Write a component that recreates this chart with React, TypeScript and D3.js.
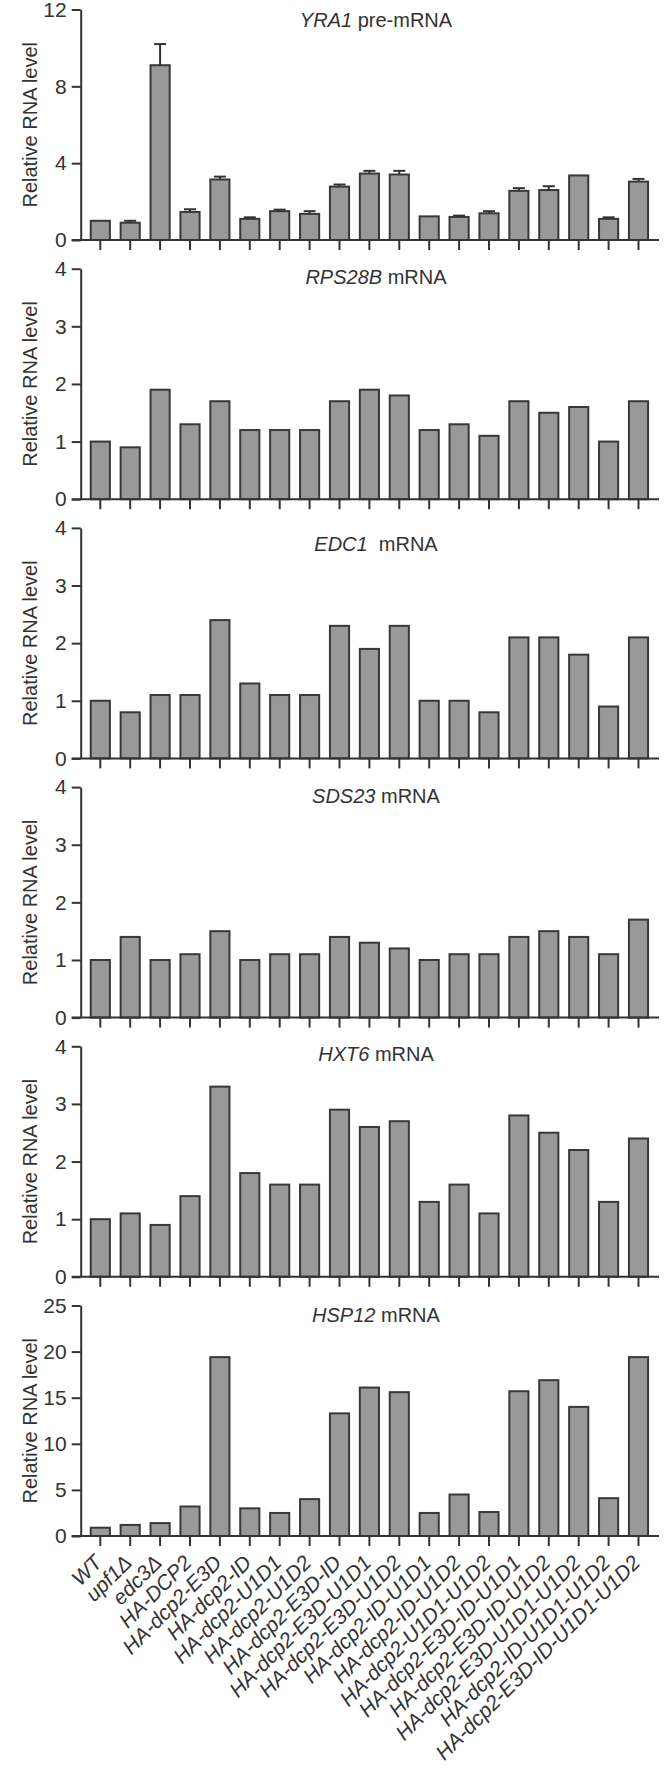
import * as d3 from "d3";
import { useEffect, useRef } from "react";

// strains on the x axis
const strains = [
  "WT", "upf1Δ", "edc3Δ", "HA-DCP2", "HA-dcp2-E3D", "HA-dcp2-ID",
  "HA-dcp2-U1D1", "HA-dcp2-U1D2", "HA-dcp2-E3D-ID", "HA-dcp2-E3D-U1D1",
  "HA-dcp2-E3D-U1D2", "HA-dcp2-ID-U1D1", "HA-dcp2-ID-U1D2", "HA-dcp2-U1D1-U1D2",
  "HA-dcp2-E3D-ID-U1D1", "HA-dcp2-E3D-ID-U1D2", "HA-dcp2-E3D-U1D1-U1D2",
  "HA-dcp2-ID-U1D1-U1D2", "HA-dcp2-E3D-ID-U1D1-U1D2",
];

const yra1 = [1.0, 0.9, 9.1, 1.46, 3.15, 1.1, 1.5, 1.36, 2.78, 3.46, 3.41, 1.23, 1.2, 1.39, 2.56, 2.6, 3.36, 1.1, 3.04];
const yra1Err = [0, 0.1, 1.1, 0.14, 0.15, 0.08, 0.08, 0.14, 0.11, 0.14, 0.19, 0, 0.07, 0.11, 0.14, 0.2, 0, 0.08, 0.14];
const rps28b = [1.0, 0.9, 1.9, 1.3, 1.7, 1.2, 1.2, 1.2, 1.7, 1.9, 1.8, 1.2, 1.3, 1.1, 1.7, 1.5, 1.6, 1.0, 1.7];
const edc1 = [1.0, 0.8, 1.1, 1.1, 2.4, 1.3, 1.1, 1.1, 2.3, 1.9, 2.3, 1.0, 1.0, 0.8, 2.1, 2.1, 1.8, 0.9, 2.1];
const sds23 = [1.0, 1.4, 1.0, 1.1, 1.5, 1.0, 1.1, 1.1, 1.4, 1.3, 1.2, 1.0, 1.1, 1.1, 1.4, 1.5, 1.4, 1.1, 1.7];
const hxt6 = [1.0, 1.1, 0.9, 1.4, 3.3, 1.8, 1.6, 1.6, 2.9, 2.6, 2.7, 1.3, 1.6, 1.1, 2.8, 2.5, 2.2, 1.3, 2.4];
const hsp12 = [0.9, 1.2, 1.4, 3.2, 19.4, 3.0, 2.5, 4.0, 13.3, 16.1, 15.6, 2.5, 4.5, 2.6, 15.7, 16.9, 14.0, 4.1, 19.4];

const ticks4 = [0, 1, 2, 3, 4];
const ticks12 = [0, 4, 8, 12];
const ticks25 = [0, 5, 10, 15, 20, 25];

const panels = [
  { gene: "YRA1", suffix: " pre-mRNA", values: yra1, err: yra1Err, max: 12, ticks: ticks12, titleDy: 17 },
  { gene: "RPS28B", suffix: " mRNA", values: rps28b, err: null, max: 4, ticks: ticks4, titleDy: 15 },
  { gene: "EDC1", suffix: "\u00a0\u00a0mRNA", values: edc1, err: null, max: 4, ticks: ticks4, titleDy: 23 },
  { gene: "SDS23", suffix: " mRNA", values: sds23, err: null, max: 4, ticks: ticks4, titleDy: 16 },
  { gene: "HXT6", suffix: " mRNA", values: hxt6, err: null, max: 4, ticks: ticks4, titleDy: 15 },
  { gene: "HSP12", suffix: " mRNA", values: hsp12, err: null, max: 25, ticks: ticks25, titleDy: 16 },
];

const W = 669;
const H = 1774;
const FONT = "'Liberation Sans', Arial, Helvetica, sans-serif";
const INK = "#333";

const App = () => {
  const chartRef = useRef<SVGSVGElement | null>(null);

  useEffect(() => {
    const svg = d3.select(chartRef.current);
    svg.selectAll("*").remove();

    const axisX = 80.7;
    const lineLeft = 71.7;
    const lineRight = 659;
    const panelTop = 9.5;
    const panelStep = 259.2;
    const panelH = 230.5;

    const x = d3.scaleBand<string>()
      .domain(strains)
      .range([85.35, 653.45])
      .paddingInner(0.36)
      .paddingOuter(0.18);
    const cx = (s: string) => (x(s) as number) + x.bandwidth() / 2;

    panels.forEach((p, k) => {
      const top = panelTop + panelStep * k;
      const zero = top + panelH;
      const y = d3.scaleLinear().domain([0, p.max]).range([zero, top]);
      const g = svg.append("g");

      // bars
      g.selectAll("rect.bar")
        .data(p.values)
        .enter()
        .append("rect")
        .attr("class", "bar")
        .attr("x", (_d, i) => x(strains[i]) as number)
        .attr("y", d => y(d))
        .attr("width", x.bandwidth())
        .attr("height", d => zero - y(d))
        .style("fill", "#999")
        .style("stroke", "#383838")
        .style("stroke-width", 2);

      // error bars (upper only)
      if (p.err) {
        const errs = p.err;
        const eg = g.selectAll("g.err")
          .data(p.values.map((v, i) => ({ v, e: errs[i], s: strains[i] })).filter(d => d.e > 0))
          .enter()
          .append("g")
          .attr("class", "err")
          .style("stroke", INK)
          .style("stroke-width", 2);
        eg.append("line")
          .attr("x1", d => cx(d.s))
          .attr("x2", d => cx(d.s))
          .attr("y1", d => y(d.v))
          .attr("y2", d => y(d.v + d.e));
        eg.append("line")
          .attr("x1", d => cx(d.s) - 6)
          .attr("x2", d => cx(d.s) + 6)
          .attr("y1", d => y(d.v + d.e))
          .attr("y2", d => y(d.v + d.e));
      }

      // y axis
      const yAxis = d3.axisLeft(y)
        .tickValues(p.ticks)
        .tickFormat(d3.format("d"))
        .tickSize(9)
        .tickSizeOuter(0)
        .tickPadding(5);
      const ya = g.append("g")
        .attr("transform", `translate(${axisX},0)`)
        .call(yAxis);
      ya.select(".domain").style("stroke", INK).style("stroke-width", 2);
      ya.selectAll(".tick line").style("stroke", INK).style("stroke-width", 2);
      ya.selectAll(".tick text")
        .style("font-family", FONT)
        .style("font-size", "21px")
        .style("fill", INK);

      // x axis
      const xAxis = d3.axisBottom(x).tickSize(10).tickSizeOuter(0).tickFormat(() => "");
      const xa = g.append("g")
        .attr("transform", `translate(0,${zero})`)
        .call(xAxis);
      xa.select(".domain").remove();
      xa.selectAll(".tick line").style("stroke", INK).style("stroke-width", 2);
      g.append("line")
        .attr("x1", lineLeft)
        .attr("x2", lineRight)
        .attr("y1", zero)
        .attr("y2", zero)
        .style("stroke", INK)
        .style("stroke-width", 2);

      // panel title
      const t = g.append("text")
        .attr("x", 376)
        .attr("y", top + p.titleDy)
        .attr("text-anchor", "middle")
        .style("font-family", FONT)
        .style("font-size", "20px")
        .style("fill", INK);
      t.append("tspan").style("font-style", "italic").text(p.gene);
      t.append("tspan").text(p.suffix);

      // y title
      g.append("text")
        .attr("transform", `translate(37,${(top + zero) / 2}) rotate(-90)`)
        .attr("text-anchor", "middle")
        .style("font-family", FONT)
        .style("font-size", "20px")
        .style("fill", INK)
        .text("Relative RNA level");

      // strain labels under the last panel
      if (k === panels.length - 1) {
        g.selectAll("text.lab")
          .data(strains)
          .enter()
          .append("text")
          .attr("class", "lab")
          .attr("transform", d => `translate(${cx(d) + 3},${zero + 28}) rotate(-45)`)
          .attr("text-anchor", "end")
          .style("font-family", FONT)
          .style("font-size", "21px")
          .style("font-style", "italic")
          .style("fill", INK)
          .text(d => d);
      }
    });
  }, []);

  return (
    <div style={{ position: "absolute", left: 0, top: 0, background: "#fff" }}>
      <svg ref={chartRef} width={W} height={H} style={{ display: "block" }}></svg>
    </div>
  );
};

export default App;
